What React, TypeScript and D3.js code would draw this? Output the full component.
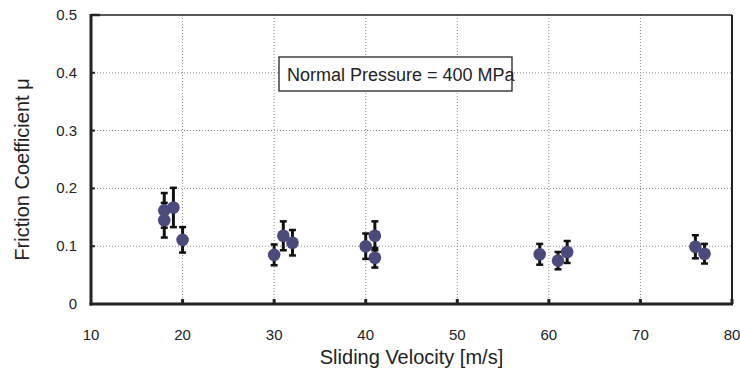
import React, { useRef, useEffect } from 'react';
import * as d3 from 'd3';

// sliding velocity [m/s] of each measurement
const velocity = [18, 18, 19, 20, 30, 31, 32, 40, 41, 41, 59, 61, 62, 76, 77];
// mean friction coefficient
const friction = [0.162, 0.145, 0.167, 0.111, 0.085, 0.118, 0.106, 0.1, 0.118, 0.08, 0.086, 0.075, 0.09, 0.099, 0.087];
// half-length of the error bar
const spread = [0.03, 0.03, 0.034, 0.022, 0.018, 0.025, 0.022, 0.022, 0.025, 0.017, 0.018, 0.015, 0.019, 0.02, 0.017];

const xTicks = [10, 20, 30, 40, 50, 60, 70, 80];
const yTicks = [0, 0.1, 0.2, 0.3, 0.4, 0.5];

const width = 740;
const height = 376;
const margin = { top: 15, right: 8, bottom: 72, left: 91 };
const font = 'Arial, "Liberation Sans", Helvetica, sans-serif';

const App = () => {
  const svgRef = useRef<SVGSVGElement>(null);

  const drawChart = (node: SVGSVGElement) => {
    const svg = d3.select(node);
    svg.selectAll('*').remove();

    const x = d3.scaleLinear().domain([10, 80]).range([margin.left, width - margin.right]);
    const y = d3.scaleLinear().domain([0, 0.5]).range([height - margin.bottom, margin.top]);
    const [x0, x1] = x.range();
    const [y0, y1] = y.range();

    // dotted grid
    svg.append('g')
      .selectAll('line')
      .data(xTicks.slice(1, -1))
      .join('line')
      .attr('x1', (d) => x(d)).attr('x2', (d) => x(d))
      .attr('y1', y1).attr('y2', y0)
      .attr('stroke', '#8a8a8a').attr('stroke-width', 1).attr('stroke-dasharray', '1,2');
    svg.append('g')
      .selectAll('line')
      .data(yTicks.slice(1, -1))
      .join('line')
      .attr('x1', x0).attr('x2', x1)
      .attr('y1', (d) => y(d)).attr('y2', (d) => y(d))
      .attr('stroke', '#8a8a8a').attr('stroke-width', 1).attr('stroke-dasharray', '1,2');

    // frame
    svg.append('line').attr('x1', x0).attr('x2', x1).attr('y1', y1).attr('y2', y1)
      .attr('stroke', '#222').attr('stroke-width', 1.5);
    svg.append('line').attr('x1', x1).attr('x2', x1).attr('y1', y1).attr('y2', y0)
      .attr('stroke', '#222').attr('stroke-width', 2);
    svg.append('line').attr('x1', x0).attr('x2', x0).attr('y1', y1 - 1).attr('y2', y0 + 1.5)
      .attr('stroke', '#222').attr('stroke-width', 3);
    svg.append('line').attr('x1', x0 - 1.5).attr('x2', x1 + 1).attr('y1', y0).attr('y2', y0)
      .attr('stroke', '#222').attr('stroke-width', 3);
    svg.append('line').attr('x1', x0).attr('x2', x0 + 9).attr('y1', y1).attr('y2', y1)
      .attr('stroke', '#222').attr('stroke-width', 2.5);

    // inner ticks
    svg.append('g')
      .selectAll('line')
      .data(xTicks.slice(1))
      .join('line')
      .attr('x1', (d) => x(d)).attr('x2', (d) => x(d))
      .attr('y1', y0).attr('y2', y0 - 5)
      .attr('stroke', '#222').attr('stroke-width', 3);
    svg.append('g')
      .selectAll('line')
      .data(yTicks.slice(1, -1))
      .join('line')
      .attr('x1', x0).attr('x2', x0 + 4)
      .attr('y1', (d) => y(d)).attr('y2', (d) => y(d))
      .attr('stroke', '#222').attr('stroke-width', 2);

    // tick labels
    svg.append('g')
      .selectAll('text')
      .data(xTicks)
      .join('text')
      .attr('x', (d) => x(d)).attr('y', y0 + 36)
      .attr('text-anchor', 'middle')
      .attr('font-family', font).attr('font-size', 15).attr('fill', '#222')
      .text((d) => d3.format('d')(d));
    svg.append('g')
      .selectAll('text')
      .data(yTicks)
      .join('text')
      .attr('x', x0 - 14).attr('y', (d) => y(d) + 5)
      .attr('text-anchor', 'end')
      .attr('font-family', font).attr('font-size', 15).attr('fill', '#222')
      .text((d) => (d === 0 ? '0' : d3.format('.1f')(d)));

    // axis titles
    svg.append('text')
      .attr('x', (x0 + x1) / 2).attr('y', 364)
      .attr('text-anchor', 'middle')
      .attr('font-family', font).attr('font-size', 20).attr('fill', '#222')
      .text('Sliding Velocity [m/s]');
    svg.append('text')
      .attr('transform', `translate(29,${(y0 + y1) / 2 + 10}) rotate(-90)`)
      .attr('text-anchor', 'middle')
      .attr('font-family', font).attr('font-size', 20).attr('fill', '#222')
      .text('Friction Coefficient μ');

    // annotation box
    const note = svg.append('g').attr('transform', 'translate(279,57)');
    note.append('rect').attr('width', 233).attr('height', 34)
      .attr('fill', '#fff').attr('stroke', '#222').attr('stroke-width', 1.3);
    note.append('text').attr('x', 8).attr('y', 24)
      .attr('font-family', font).attr('font-size', 18).attr('fill', '#222')
      .text('Normal Pressure = 400 MPa');

    const data = velocity.map((v, i) => ({ v, mu: friction[i], e: spread[i] }));

    // error bars
    const bars = svg.append('g').selectAll('g').data(data).join('g');
    bars.append('line')
      .attr('x1', (d) => x(d.v)).attr('x2', (d) => x(d.v))
      .attr('y1', (d) => y(d.mu + d.e)).attr('y2', (d) => y(d.mu - d.e))
      .attr('stroke', '#111').attr('stroke-width', 3);
    bars.append('line')
      .attr('x1', (d) => x(d.v) - 3.5).attr('x2', (d) => x(d.v) + 3.5)
      .attr('y1', (d) => y(d.mu + d.e)).attr('y2', (d) => y(d.mu + d.e))
      .attr('stroke', '#111').attr('stroke-width', 2.5);
    bars.append('line')
      .attr('x1', (d) => x(d.v) - 3.5).attr('x2', (d) => x(d.v) + 3.5)
      .attr('y1', (d) => y(d.mu - d.e)).attr('y2', (d) => y(d.mu - d.e))
      .attr('stroke', '#111').attr('stroke-width', 2.5);

    // points
    svg.append('g')
      .selectAll('circle')
      .data(data)
      .join('circle')
      .attr('cx', (d) => x(d.v)).attr('cy', (d) => y(d.mu))
      .attr('r', 6.3)
      .attr('fill', '#4b4a7c');
  };

  useEffect(() => {
    if (svgRef.current) {
      drawChart(svgRef.current);
    }
  }, [svgRef]);

  return (
    <svg
      ref={svgRef}
      width={width}
      height={height}
      style={{ position: 'absolute', left: 0, top: 0, background: '#fff' }}
    />
  );
};

export default App;
